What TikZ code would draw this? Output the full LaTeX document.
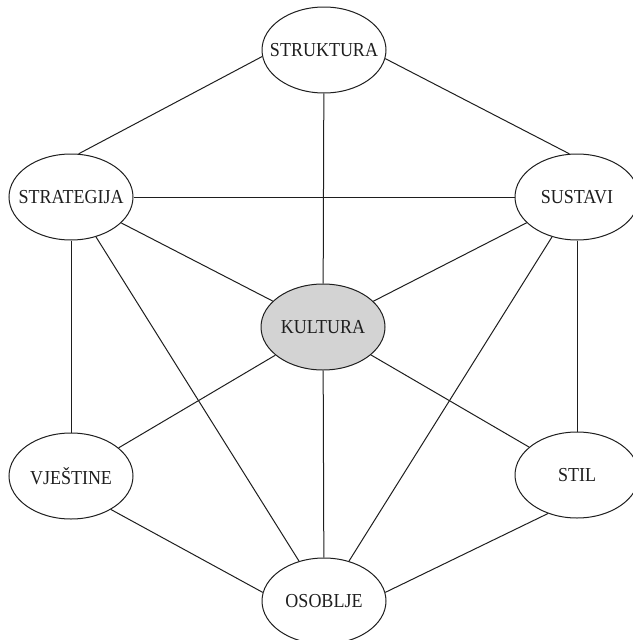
\documentclass[tikz,border=0pt]{standalone}
\usepackage{fontspec}
\setmainfont{Liberation Serif}
\usepackage{graphicx}
\usepackage{tikz}
\usetikzlibrary{shapes.geometric}
\definecolor{kulturafill}{RGB}{211, 211, 211}
\definecolor{linija}{RGB}{30, 30, 30}
\newcommand{\oznaka}[1]{\makebox[0pt]{\scalebox{1}[1.1]{#1}}}

\begin{document}
\begin{tikzpicture}[x=1pt, y=-1pt,
	elip/.style={ellipse, draw=linija, line width=1pt, minimum width=124pt, minimum height=86pt, inner sep=0pt, text=linija, font=\fontsize{18}{20}\selectfont},
	veza/.style={linija, line width=1pt}]
	\useasboundingbox (0,0) rectangle (632,640);
	\node[elip] (strukt) at (324,50) {\oznaka{STRUKTURA}};
	\node[elip] (strat) at (71,197) {\oznaka{STRATEGIJA}};
	\node[elip] (sust) at (577,197) {\oznaka{SUSTAVI}};
	\node[elip, fill=kulturafill] (kult) at (323,327) {\oznaka{KULTURA}};
	\node[elip] (vjest) at (71,476) {\oznaka{VJEŠTINE}};
	\node[elip] (stil) at (577,475) {\oznaka{STIL}};
	\node[elip] (osob) at (324,601) {\oznaka{OSOBLJE}};
	
	% Struktura
	\draw[veza](strukt.186) to (strat.80);
	\draw[veza](strukt.352) to (sust.100);
	\draw[veza](strukt) to (kult);
	% Strategija
	\draw[veza](strat) to (sust);
	\draw[veza](strat) to (kult);
	\draw[veza](strat) to (vjest);
	\draw[veza](strat) to (osob);
	% Sustavi
	\draw[veza](sust) to (kult);
	\draw[veza](sust) to (stil);
	\draw[veza](sust) to (osob);
	% Kultura
	\draw[veza](kult) to (vjest);
	\draw[veza](kult) to (stil);
	\draw[veza](kult) to (osob);
	% Vjestine i Stil
	\draw[veza](vjest.320) to (osob.172);
	\draw[veza](stil.233) to (osob.8);
\end{tikzpicture}
\end{document}
